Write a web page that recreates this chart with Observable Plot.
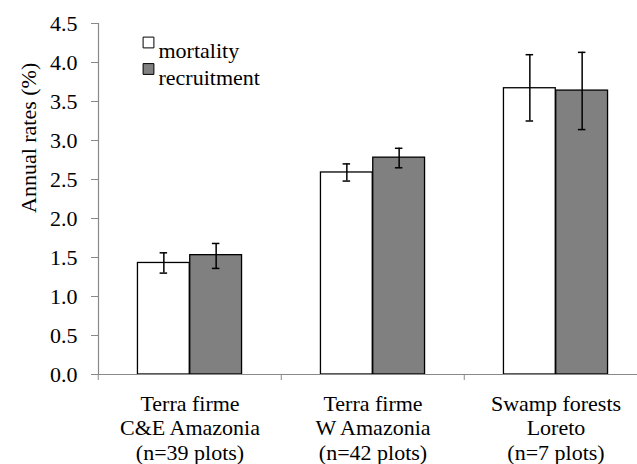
<!DOCTYPE html>
<html>
<head>
<meta charset="utf-8">
<script src="https://cdn.jsdelivr.net/npm/d3@7"></script>
<script src="https://cdn.jsdelivr.net/npm/@observablehq/plot@0.6"></script>
<style>
  html, body { margin: 0; padding: 0; background: white; }
  svg, svg text { font-family: "Liberation Serif", Tinos, "DejaVu Serif", "Times New Roman", Times, serif !important; font-size: 22px !important; }
</style>
</head>
<body>
<div id="chart"></div>
<script>
const groupLabels = [
  "Terra firme\nC&E Amazonia\n(n=39 plots)",
  "Terra firme\nW Amazonia\n(n=42 plots)",
  "Swamp forests\nLoreto\n(n=7 plots)"
];
const seriesNames = ["mortality", "recruitment"];
const seriesFills = ["white", "#808080"];
const mortality = [1.43, 2.59, 3.67];
const mortalityLow = [1.30, 2.48, 3.25];
const mortalityHigh = [1.56, 2.70, 4.10];
const recruitment = [1.53, 2.78, 3.64];
const recruitmentLow = [1.36, 2.65, 3.14];
const recruitmentHigh = [1.68, 2.90, 4.13];
const yTicks = [0, 0.5, 1, 1.5, 2, 2.5, 3, 3.5, 4, 4.5];
const yLabel = "Annual rates (%)";

const rowsM = groupLabels.map((g, i) => ({group: g, value: mortality[i], low: mortalityLow[i], high: mortalityHigh[i]}));
const rowsR = groupLabels.map((g, i) => ({group: g, value: recruitment[i], low: recruitmentLow[i], high: recruitmentHigh[i]}));

const gray = "#898989";
const half = 91.75;      // half of a category step (px)
const barW = 52.3;       // bar width (px)
const off = barW / 2;    // bar center offset from category center
const capInset = half - 4;
const FONT = "Liberation Serif, Tinos, DejaVu Serif, serif";

const legendMarks = seriesNames.flatMap((s, i) => [
  Plot.dot([s], {frameAnchor: "top-left", dx: 50, dy: 19 + i * 26.5, symbol: "square", r: 6.1, fill: seriesFills[i], stroke: "black", strokeWidth: 1}),
  Plot.text([s], {frameAnchor: "top-left", dx: 60, dy: 19 + i * 26.5, text: d => d, textAnchor: "start", fill: "black", fontFamily: FONT, fontSize: 22})
]);

const chart = Plot.plot({
  width: 637,
  height: 464,
  marginLeft: 98,
  marginRight: 0,
  marginTop: 23,
  marginBottom: 90,
  style: {fontFamily: FONT, fontSize: "22px", background: "white", color: "black"},
  x: {domain: groupLabels, range: [97.5, 648], padding: 0, axis: null},
  y: {domain: [0, 4.5], axis: null},
  marks: [
    Plot.barY(rowsM, {x: "group", y: "value", fill: seriesFills[0], stroke: "black", strokeWidth: 1.3, insetLeft: half - barW, insetRight: half}),
    Plot.barY(rowsR, {x: "group", y: "value", fill: seriesFills[1], stroke: "black", strokeWidth: 1.3, insetLeft: half, insetRight: half - barW}),
    Plot.ruleY([0], {stroke: gray, strokeWidth: 1.2}),
    Plot.frame({anchor: "left", stroke: gray, strokeWidth: 1.2}),
    Plot.axisY({ticks: yTicks, tickFormat: d => d.toFixed(1), tickSize: 7, tickPadding: 14, stroke: gray, fill: "black", label: null, fontFamily: FONT, fontSize: 22}),
    Plot.axisX({tickSize: 6, dx: -half, stroke: gray, fill: "none", tickFormat: () => "", label: null}),
    Plot.ruleX(rowsM, {x: "group", y1: "low", y2: "high", dx: -off, stroke: "black", strokeWidth: 1.5}),
    Plot.tickY(rowsM, {x: "group", y: "low", dx: -off, insetLeft: capInset, insetRight: capInset, stroke: "black", strokeWidth: 1.5}),
    Plot.tickY(rowsM, {x: "group", y: "high", dx: -off, insetLeft: capInset, insetRight: capInset, stroke: "black", strokeWidth: 1.5}),
    Plot.ruleX(rowsR, {x: "group", y1: "low", y2: "high", dx: off, stroke: "black", strokeWidth: 1.5}),
    Plot.tickY(rowsR, {x: "group", y: "low", dx: off, insetLeft: capInset, insetRight: capInset, stroke: "black", strokeWidth: 1.5}),
    Plot.tickY(rowsR, {x: "group", y: "high", dx: off, insetLeft: capInset, insetRight: capInset, stroke: "black", strokeWidth: 1.5}),
    Plot.text(groupLabels, {x: d => d, text: d => d, frameAnchor: "bottom", lineAnchor: "top", dy: 18.4, lineHeight: 1.13, fill: "black", fontFamily: FONT, fontSize: 22}),
    Plot.text([yLabel], {frameAnchor: "left", text: d => d, rotate: -90, dx: -70, dy: 14, fill: "black", fontFamily: FONT, fontSize: 22}),
    ...legendMarks
  ]
});
document.getElementById("chart").appendChild(chart);
</script>
</body>
</html>
